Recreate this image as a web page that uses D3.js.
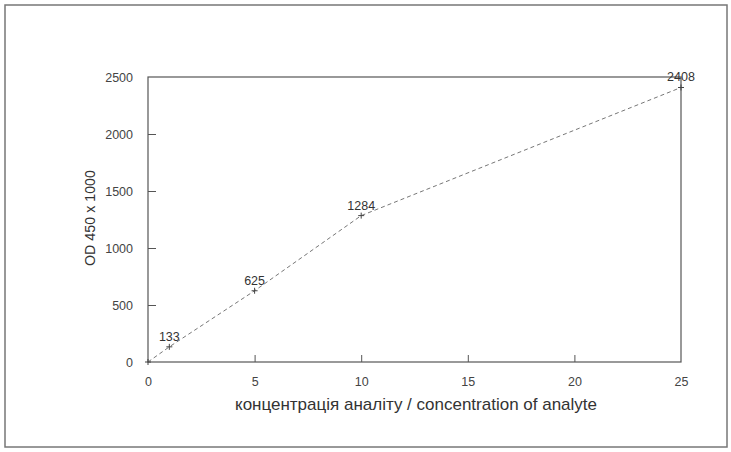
<!DOCTYPE html>
<html>
<head>
<meta charset="utf-8">
<script src="https://cdn.jsdelivr.net/npm/d3@7"></script>
<style>
  body { margin: 0; background: #fff; }
  svg { font-family: "Liberation Sans", Arial, sans-serif; }
</style>
</head>
<body>
<svg id="chart"></svg>
<script>
// concentration (x) and OD450 x 1000 (y)
const concentration = [0, 1, 5, 10, 25];
const od = [0, 133, 625, 1284, 2408];
const pointLabels = ["", "133", "625", "1284", "2408"];
const xTicks = [0, 5, 10, 15, 20, 25];
const yTicks = [0, 500, 1000, 1500, 2000, 2500];

const width = 731, height = 452;
const margin = { top: 77, right: 50, bottom: 90, left: 148 };

const svg = d3.select('#chart')
    .attr('width', width)
    .attr('height', height);

// outer frame
svg.append('rect')
    .attr('x', 5).attr('y', 5)
    .attr('width', 722).attr('height', 442)
    .attr('fill', 'none')
    .attr('stroke', '#777')
    .attr('stroke-width', 1.5);

const x = d3.scaleLinear().domain([0, 25]).range([margin.left, width - margin.right]);
const y = d3.scaleLinear().domain([0, 2500]).range([height - margin.bottom, margin.top]);

const g = svg.append('g');

// plot box
g.append('rect')
    .attr('x', x(0)).attr('y', y(2500))
    .attr('width', x(25) - x(0)).attr('height', y(0) - y(2500))
    .attr('fill', 'none')
    .attr('stroke', '#555')
    .attr('stroke-width', 1.2);

// axes with inward ticks
const xAxis = g.append('g')
    .attr('transform', `translate(0,${y(0)})`)
    .call(d3.axisBottom(x).tickValues(xTicks).tickFormat(d3.format('d'))
        .tickSizeInner(-7).tickSizeOuter(0).tickPadding(15));
const yAxis = g.append('g')
    .attr('transform', `translate(${x(0)},0)`)
    .call(d3.axisLeft(y).tickValues(yTicks).tickFormat(d3.format('d'))
        .tickSizeInner(-8).tickSizeOuter(0).tickPadding(15));

[xAxis, yAxis].forEach(a => {
  a.select('.domain').remove();
  a.selectAll('line').attr('stroke', '#555');
  a.selectAll('text').attr('fill', '#444').style('font-size', '12.5px')
      .style('font-family', '"Liberation Sans", Arial, sans-serif');
});
xAxis.selectAll('.tick').filter(d => d === 0 || d === 25).select('line').remove();
yAxis.selectAll('.tick').filter(d => d === 0 || d === 2500).select('line').remove();

const data = concentration.map((c, i) => ({ c: c, v: od[i], label: pointLabels[i] }));

// dashed line
g.append('path')
    .datum(data)
    .attr('fill', 'none')
    .attr('stroke', '#777')
    .attr('stroke-width', 1)
    .attr('stroke-dasharray', '4,3')
    .attr('d', d3.line().x(d => x(d.c)).y(d => y(d.v)));

// + markers
g.selectAll('.mark')
    .data(data)
    .enter()
    .append('path')
    .attr('class', 'mark')
    .attr('transform', d => `translate(${x(d.c)},${y(d.v)})`)
    .attr('d', 'M-3,0H3M0,-3V3')
    .attr('stroke', '#444')
    .attr('stroke-width', 1);

// value labels
g.selectAll('.vlabel')
    .data(data.filter(d => d.label))
    .enter()
    .append('text')
    .attr('class', 'vlabel')
    .attr('x', d => x(d.c))
    .attr('y', d => y(d.v) - 6)
    .attr('text-anchor', 'middle')
    .attr('fill', '#333')
    .style('font-size', '12.5px')
    .text(d => d.label);

// axis titles
svg.append('text')
    .attr('x', 416)
    .attr('y', 410)
    .attr('text-anchor', 'middle')
    .attr('fill', '#333')
    .style('font-size', '17px')
    .attr('textLength', 362)
    .attr('lengthAdjust', 'spacingAndGlyphs')
    .text('концентрація аналіту / concentration of analyte');

svg.append('text')
    .attr('transform', `translate(95,218) rotate(-90)`)
    .attr('text-anchor', 'middle')
    .attr('fill', '#333')
    .style('font-size', '15px')
    .attr('textLength', 96)
    .attr('lengthAdjust', 'spacingAndGlyphs')
    .text('OD 450 x 1000');
</script>
</body>
</html>
